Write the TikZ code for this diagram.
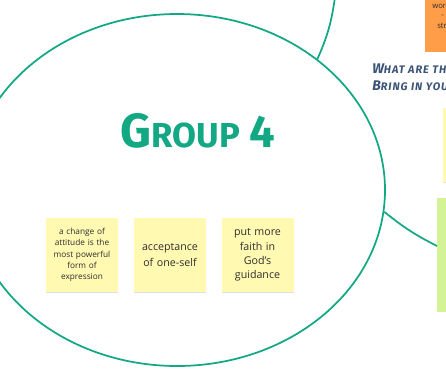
\documentclass[tikz,border=0pt]{standalone}
\usepackage{fontspec}
\setmainfont{Open Sans}
\newfontfamily\brushfont{Fira Sans}
\newfontfamily\headfont[LetterSpace=9]{Fira Sans}
\usetikzlibrary{shapes.geometric,shadows,calc}
\definecolor{grpgreen}{HTML}{12A884}
\definecolor{stickyyellow}{HTML}{FFF9B1}
\definecolor{stickygreen}{HTML}{D3F394}
\definecolor{stickyorange}{HTML}{FF9D48}
\definecolor{headblue}{HTML}{3B5478}
\definecolor{stickytext}{HTML}{2E2E2E}
\tikzset{
  sticky/.style={fill=stickyyellow, inner sep=0pt, align=center, text=stickytext,
    minimum width=54pt, minimum height=55pt, text width=50pt,
    drop shadow={shadow xshift=0pt, shadow yshift=-1.2pt, opacity=0.25, fill=gray}},
  grpline/.style={draw=grpgreen, line width=1.3pt},
  edgestick/.style={inner sep=0pt, anchor=north west}
}
\begin{document}
\begin{tikzpicture}[x=0.75pt,y=-0.75pt]
\useasboundingbox (0,0) rectangle (446,369);
\clip (0,0) rectangle (446,369);
\fill[white] (0,0) rectangle (446,369);
% off-canvas stickies on the right
\node[edgestick, fill=stickyorange, minimum width=60pt, minimum height=54pt] (orange) at (425,-20) {};
\node[anchor=west, inner sep=0pt, text=stickytext, font=\fontsize{5.8}{7}\selectfont] (o1) at (432,6) {wor};
\node[anchor=west, inner sep=0pt, text=stickytext, font=\fontsize{5.8}{7}\selectfont] (o2) at (441,16) {-};
\node[anchor=west, inner sep=0pt, text=stickytext, font=\fontsize{5.8}{7}\selectfont] (o3) at (437,26) {str};
\node[edgestick, fill=stickyyellow, minimum width=45pt, minimum height=55pt,
  drop shadow={shadow xshift=0pt, shadow yshift=-1.2pt, opacity=0.25, fill=gray}] (ryellow) at (443,108) {};
\node[edgestick, fill=stickygreen, minimum width=45pt, minimum height=85pt] (rgreen) at (437,198) {};
% heading
\node[anchor=west, inner sep=0pt, text=headblue, font=\headfont\bfseries\itshape\fontsize{8.2}{9}\selectfont] (h1) at (372,69) {{\fontsize{10.5}{10}\selectfont W}HAT ARE TH};
\node[anchor=west, inner sep=0pt, text=headblue, font=\headfont\bfseries\itshape\fontsize{8.2}{9}\selectfont] (h2) at (372,86) {{\fontsize{10.5}{10}\selectfont B}RING IN YOU};
% group ellipse
\node[ellipse, grpline, minimum width=312pt, minimum height=264pt, inner sep=0pt] (g4) at (177,190) {};
\coordinate (topend) at (335,-3);
\draw[grpline] (g4.43.5) to[bend right=8] (topend);
\draw[grpline] (g4.-6.5) to[bend right=6] ($(rgreen.north west)+(0,48)$);
% title
\node[text=grpgreen, inner sep=0pt, font=\brushfont\bfseries] (title) at (198,131)
  {{\fontsize{36}{36}\selectfont G}{\fontsize{26}{26}\selectfont ROUP}\hspace{7pt}{\fontsize{34}{34}\selectfont 4}};
% stickies
\node[sticky, font=\fontsize{6.2}{8.4}\selectfont] (s1) at (82,255) {a change of\\attitude is the\\most powerful\\form of\\expression};
\node[sticky, font=\fontsize{8}{11.8}\selectfont] (s2) at (170,255) {acceptance\\of one-self};
\node[sticky, font=\fontsize{8}{10.8}\selectfont] (s3) at (257.5,255) {put more\\faith in\\God's\\guidance};
\end{tikzpicture}
\end{document}
